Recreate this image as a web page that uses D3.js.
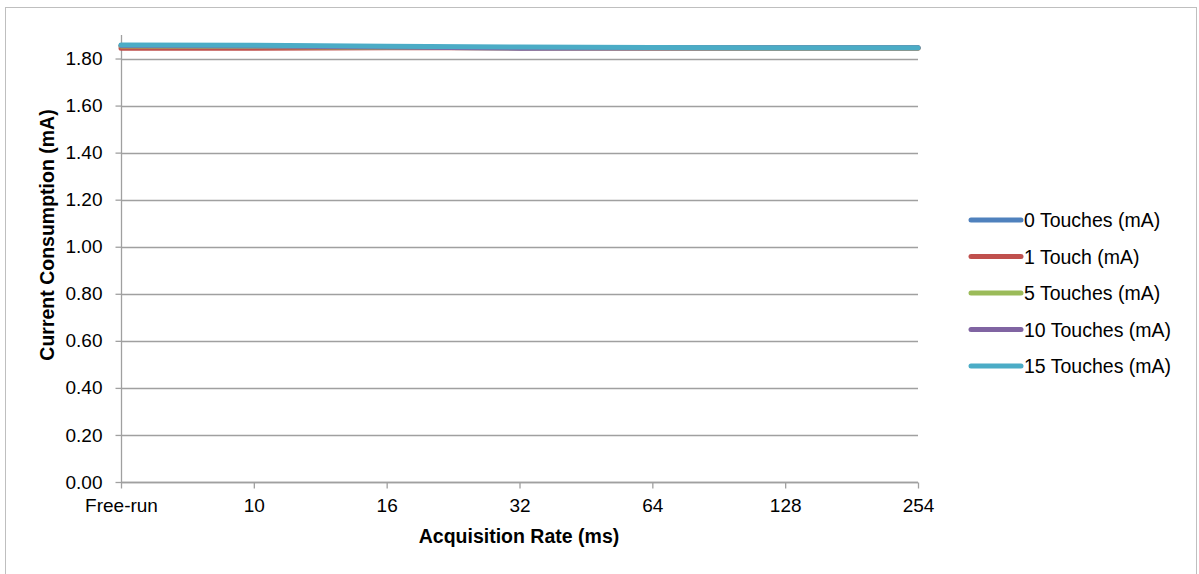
<!DOCTYPE html>
<html><head><meta charset="utf-8">
<script src="https://cdn.jsdelivr.net/npm/d3@7"></script>
<style>body{margin:0;background:#fff}svg{display:block;font-family:"Liberation Sans",Arial,sans-serif}</style>
</head><body>
<script>
const categories = ["Free-run","10","16","32","64","128","254"];
const seriesNames = ["0 Touches (mA)","1 Touch (mA)","5 Touches (mA)","10 Touches (mA)","15 Touches (mA)"];
const s0  = [1.852,1.850,1.848,1.846,1.845,1.845,1.845];
const s1  = [1.844,1.844,1.846,1.846,1.845,1.845,1.845];
const s5  = [1.853,1.851,1.848,1.846,1.846,1.845,1.845];
const s10 = [1.855,1.853,1.849,1.844,1.846,1.846,1.846];
const s15 = [1.858,1.856,1.852,1.849,1.847,1.846,1.846];
const yTicks = [0,0.2,0.4,0.6,0.8,1.0,1.2,1.4,1.6,1.8];
const colors = ["#4F81BD","#C0504D","#9BBB59","#8064A2","#4BACC6"];
const seriesValues = [s0,s1,s5,s10,s15];

const W=1199,H=574;
const FONT="Liberation Sans, Arial, sans-serif";
const svg=d3.select("body").append("svg").attr("width",W).attr("height",H);
svg.append("rect").attr("x",5.5).attr("y",7.5).attr("width",1191).attr("height",580)
  .attr("fill","#fff").attr("stroke","#bfbfbf");

const x=d3.scalePoint().domain(categories).range([121,918]);
const y=d3.scaleLinear().domain([0,1.9]).range([482,35]);
const grid="#a0a0a0";

// gridlines
svg.append("g").selectAll("line").data(yTicks).join("line")
  .attr("x1",121).attr("x2",918).attr("y1",d=>Math.round(y(d))+0.5).attr("y2",d=>Math.round(y(d))+0.5)
  .attr("stroke",grid).attr("stroke-width",1.3);

// y axis
const ya=svg.append("g").attr("transform","translate(121.5,0)")
  .call(d3.axisLeft(y).tickValues(yTicks).tickFormat(d3.format(".2f")).tickSize(6).tickPadding(13));
ya.select(".domain").attr("stroke",grid).attr("stroke-width",1.3).attr("d","M0,35V482");
ya.selectAll(".tick line").attr("stroke",grid).attr("stroke-width",1.3);
ya.selectAll("text").attr("font-size",19).attr("fill","#000").attr("font-family",FONT);

// x axis
const xa=svg.append("g").attr("transform","translate(0,482.5)")
  .call(d3.axisBottom(x).tickSize(6).tickPadding(10));
xa.select(".domain").attr("stroke",grid).attr("stroke-width",1.3).attr("d","M121,0H918");
xa.selectAll(".tick line").attr("stroke",grid).attr("stroke-width",1.3);
xa.selectAll("text").attr("font-size",19).attr("fill","#000").attr("font-family",FONT);

// lines
const line=d3.line().x((d,i)=>x(categories[i])).y(d=>y(d));
seriesValues.forEach((vals,k)=>{
  svg.append("path").datum(vals).attr("d",line).attr("fill","none")
    .attr("stroke",colors[k]).attr("stroke-width",5).attr("stroke-linecap","round").attr("stroke-linejoin","round");
});

// axis titles
svg.append("text").attr("x",519).attr("y",543).attr("text-anchor","middle")
  .attr("font-size",19.5).attr("font-weight","bold").text("Acquisition Rate (ms)");
svg.append("text").attr("transform","translate(54,235) rotate(-90)").attr("text-anchor","middle")
  .attr("font-size",19.5).attr("font-weight","bold").text("Current Consumption (mA)");

// legend
const lg=svg.append("g");
seriesNames.forEach((n,k)=>{
  const yy=220+k*36.5;
  lg.append("line").attr("x1",971).attr("x2",1021).attr("y1",yy).attr("y2",yy)
    .attr("stroke",colors[k]).attr("stroke-width",5).attr("stroke-linecap","round");
  lg.append("text").attr("x",1024).attr("y",yy+7).attr("font-size",19.5).attr("fill","#000").text(n);
});
</script>
</body></html>
